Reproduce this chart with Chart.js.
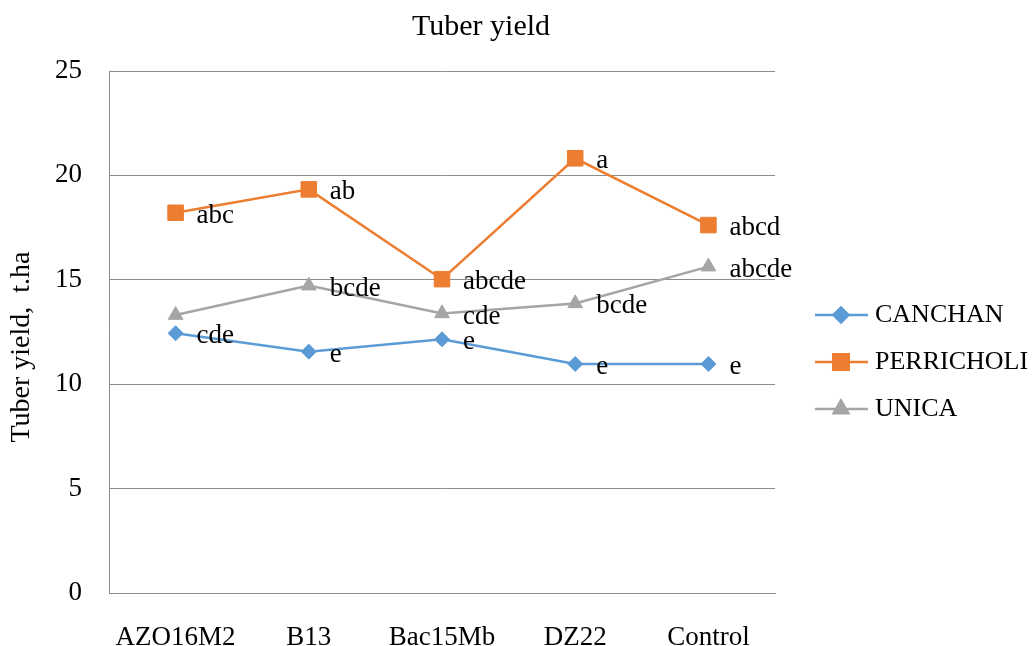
<!DOCTYPE html>
<html>
<head>
<meta charset="utf-8">
<script src="https://cdn.jsdelivr.net/npm/chart.js@4.4.0/dist/chart.umd.min.js"></script>
<style>
  html, body { margin: 0; padding: 0; background: #fff; }
  #wrap { width: 1036px; height: 646px; }
</style>
</head>
<body>
<div id="wrap"><canvas id="chart" width="1036" height="646"></canvas></div>
<script>
const categories = ['AZO16M2', 'B13', 'Bac15Mb', 'DZ22', 'Control'];

const canchan = [12.44, 11.56, 12.15, 10.97, 10.97];
const perricholi = [18.21, 19.33, 15.03, 20.82, 17.62];
const unica = [13.31, 14.72, 13.39, 13.87, 15.63];

// significance letters shown beside each point
const canchanLetters = ['cde', 'e', 'e', 'e', 'e'];
const perricholiLetters = ['abc', 'ab', 'abcde', 'a', 'abcd'];
const unicaLetters = ['', 'bcde', 'cde', 'bcde', 'abcde'];

const yTicks = [0, 5, 10, 15, 20, 25];

const SERIF = '"Liberation Serif", "Times New Roman", serif';
const TEXT = '#000';
const GRID = '#8c8c8c';

const pointLetters = {
  id: 'pointLetters',
  afterDatasetsDraw(chart) {
    const ctx = chart.ctx;
    ctx.save();
    ctx.font = '27px ' + SERIF;
    ctx.fillStyle = TEXT;
    ctx.textAlign = 'left';
    ctx.textBaseline = 'middle';
    chart.data.datasets.forEach((ds, i) => {
      chart.getDatasetMeta(i).data.forEach((pt, j) => {
        const txt = ds.letters[j];
        if (txt) ctx.fillText(txt, pt.x + 21, pt.y + 3);
      });
    });
    ctx.restore();
  }
};

const titlesAndLegend = {
  id: 'titlesAndLegend',
  afterDraw(chart) {
    const ctx = chart.ctx;
    const area = chart.chartArea;
    ctx.save();
    ctx.fillStyle = TEXT;
    ctx.textAlign = 'center';
    ctx.textBaseline = 'middle';

    // chart title
    ctx.font = '30px ' + SERIF;
    ctx.fillText('Tuber yield', 481, 27);

    // y axis title
    ctx.save();
    ctx.translate(22, 347);
    ctx.rotate(-Math.PI / 2);
    ctx.font = '28px ' + SERIF;
    ctx.fillText('Tuber yield,  t.ha', 0, 0);
    ctx.restore();

    // legend: line + marker + name
    chart.data.datasets.forEach((ds, i) => {
      const y = 315 + i * 47;
      const x0 = area.right + 40;
      ctx.strokeStyle = ds.borderColor;
      ctx.lineWidth = ds.borderWidth;
      ctx.beginPath();
      ctx.moveTo(x0, y);
      ctx.lineTo(x0 + 53, y);
      ctx.stroke();
      Chart.helpers.drawPoint(ctx, {
        pointStyle: ds.pointStyle,
        radius: ds.pointRadius,
        borderWidth: 1,
        rotation: 0
      }, x0 + 26, y);
      ctx.fillStyle = ds.borderColor;
      ctx.fill();
      ctx.fillStyle = TEXT;
      ctx.font = '26px ' + SERIF;
      ctx.textAlign = 'left';
      ctx.fillText(ds.label, x0 + 60, y);
    });
    ctx.restore();
  }
};

function series(label, data, letters, color, style, radius) {
  return {
    label, data, letters,
    borderColor: color,
    backgroundColor: color,
    borderWidth: 2.5,
    pointStyle: style,
    pointRadius: radius,
    pointHoverRadius: radius,
    pointBorderWidth: 1,
    tension: 0
  };
}

new Chart(document.getElementById('chart'), {
  type: 'line',
  data: {
    labels: categories,
    datasets: [
      series('CANCHAN', canchan, canchanLetters, '#5B9BD5', 'rectRot', 7.5),
      series('PERRICHOLI', perricholi, perricholiLetters, '#ED7D31', 'rect', 11),
      series('UNICA', unica, unicaLetters, '#A5A5A5', 'triangle', 8.5)
    ]
  },
  options: {
    responsive: false,
    animation: false,
    layout: { padding: { left: 7, right: 261, top: 71, bottom: 0 } },
    plugins: {
      legend: { display: false },
      title: { display: false },
      tooltip: { enabled: false }
    },
    scales: {
      x: {
        offset: true,
        grid: { display: false },
        border: { display: true, color: GRID, width: 1 },
        ticks: { color: TEXT, font: { family: SERIF, size: 27 }, padding: 21, maxRotation: 0 },
        afterFit(s) { s.height = 53; }
      },
      y: {
        min: 0,
        max: 25,
        afterBuildTicks(s) { s.ticks = yTicks.map(v => ({ value: v })); },
        grid: { color: GRID, lineWidth: 1, drawTicks: false },
        border: { display: true, color: GRID, width: 1 },
        ticks: { color: TEXT, font: { family: SERIF, size: 27 }, padding: 27 },
        afterFit(s) { s.width = 102; }
      }
    }
  },
  plugins: [pointLetters, titlesAndLegend]
});
</script>
</body>
</html>
